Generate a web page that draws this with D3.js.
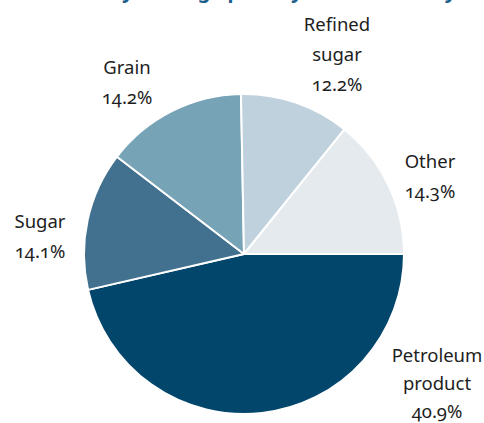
<!DOCTYPE html>
<html>
<head>
<meta charset="utf-8">
<script src="https://cdn.jsdelivr.net/npm/d3@7"></script>
<style>
  html, body { margin: 0; padding: 0; background: #fff; }
  svg { display: block; }
  .lbl { font-family: "Noto Sans", sans-serif; font-size: 18.5px; fill: #1e1e1e; font-variant-numeric: oldstyle-nums; }
  .title { font-family: "Noto Sans", sans-serif; font-weight: bold; font-size: 20px; fill: #1b5e8c; }
</style>
</head>
<body>
<script>
const categories = ["Petroleum product", "Sugar", "Grain", "Refined sugar", "Other"];
const shares = [46.4, 14.0, 14.3, 11.1, 14.2];
const percentLabels = ["40.9%", "14.1%", "14.2%", "12.2%", "14.3%"];
const labelLines = [["Petroleum", "product"], ["Sugar"], ["Grain"], ["Refined", "sugar"], ["Other"]];
const colors = ["#02466c", "#42718f", "#76a3b6", "#bfd1dc", "#e5eaee"];
const titleText = "Volumes by tonnage per day at the berth by commodity";

const W = 484, H = 423;
const cx = 244, cy = 254, R = 160;

const svg = d3.select("body").append("svg").attr("width", W).attr("height", H);

// Title (cut off by the top edge in the reference; only descenders show)
const title = svg.append("text").attr("class", "title")
  .attr("x", 0).attr("y", -2.5)
  .text(titleText);
const offs = title.node().getSubStringLength(0, titleText.indexOf("by") + 1);
title.attr("x", 122 - offs);

const pie = d3.pie().sort(null).value(d => d)
  .startAngle(Math.PI / 2).endAngle(Math.PI / 2 + 2 * Math.PI);
const arcs = pie(shares);
const arc = d3.arc().innerRadius(0).outerRadius(R);

const g = svg.append("g").attr("transform", `translate(${cx},${cy})`);
g.selectAll("path").data(arcs).join("path")
  .attr("d", arc)
  .attr("fill", (d, i) => colors[i])
  .attr("stroke", "#fff")
  .attr("stroke-width", 2)
  .attr("stroke-linejoin", "round");

// label anchor positions (centre x, first baseline y, line step)
const labelPos = [[437, 362, 28], [40, 228, 30], [127, 74, 30], [337, 31, 30], [430, 168, 30]];
labelLines.forEach((lines, i) => {
  const t = svg.append("text").attr("class", "lbl").attr("text-anchor", "middle");
  const all = lines.concat([percentLabels[i]]);
  all.forEach((s, k) => {
    t.append("tspan").attr("x", labelPos[i][0]).attr("y", labelPos[i][1] + k * labelPos[i][2]).text(s);
  });
});
</script>
</body>
</html>
